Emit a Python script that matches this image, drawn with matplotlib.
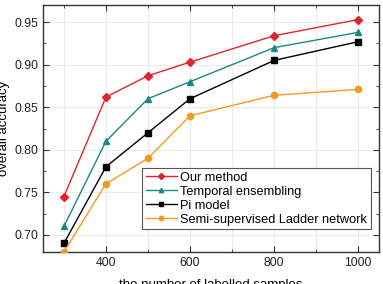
import matplotlib
matplotlib.use("Agg")
import matplotlib.pyplot as plt
from matplotlib.ticker import MultipleLocator

plt.rcParams["font.family"] = ["Liberation Sans", "DejaVu Sans"]

# number of labelled samples
samples = [300, 400, 500, 600, 800, 1000]

# overall accuracy per method
our_method = [0.745, 0.862, 0.887, 0.903, 0.934, 0.953]
temporal   = [0.710, 0.810, 0.860, 0.880, 0.920, 0.938]
pi_model   = [0.690, 0.780, 0.820, 0.860, 0.905, 0.927]
ladder     = [0.680, 0.760, 0.790, 0.840, 0.864, 0.871]

series = [
    ("Our method",                     our_method, "#e3232c", "D"),
    ("Temporal ensembling",            temporal,   "#1a8a80", "^"),
    ("Pi model",                       pi_model,   "#000000", "s"),
    ("Semi-supervised Ladder network", ladder,     "#f29a21", "o"),
]

fig = plt.figure(figsize=(3.83, 2.84), dpi=100)
ax = fig.add_axes([0.112, 0.113, 0.878, 0.869])

for label, ys, color, marker in series:
    ax.plot(samples, ys, color=color, linewidth=1.0, marker=marker,
            markersize=4.5, label=label, zorder=3)

ax.set_xlim(250, 1050)
ax.set_ylim(0.68, 0.97)
ax.xaxis.set_major_locator(MultipleLocator(200))
ax.xaxis.set_minor_locator(MultipleLocator(100))
ax.yaxis.set_major_locator(MultipleLocator(0.05))
ax.yaxis.set_minor_locator(MultipleLocator(0.025))
ax.yaxis.set_major_formatter(matplotlib.ticker.FormatStrFormatter("%.2f"))

ax.tick_params(which="both", direction="in", top=True, right=True,
               labelsize=8.8, color="#333333", labelcolor="#222222")
ax.tick_params(which="major", length=4)
ax.tick_params(which="minor", length=2.5)
ax.grid(True, which="major", axis="y", color="#ebebeb", linewidth=0.8)
ax.grid(True, which="both", axis="x", color="#ebebeb", linewidth=0.8)
ax.set_axisbelow(True)
for sp in ax.spines.values():
    sp.set_color("#333333")
    sp.set_linewidth(1.0)

ax.set_xlabel("the number of labelled samples", fontsize=9.5)
ax.set_ylabel("overall accuracy", fontsize=9.5)
ax.xaxis.set_label_coords(0.5, -0.108)
ax.yaxis.set_label_coords(-0.098, 0.5)

leg = ax.legend(loc="lower right", fontsize=9.2, handlelength=2.4,
                handletextpad=0.3, borderpad=0.3, labelspacing=0.15,
                fancybox=False, framealpha=1, edgecolor="#555555",
                markerscale=0.7, bbox_to_anchor=(0.995, 0.065))
leg.get_frame().set_linewidth(0.8)

fig.savefig("out.png", dpi=100)
